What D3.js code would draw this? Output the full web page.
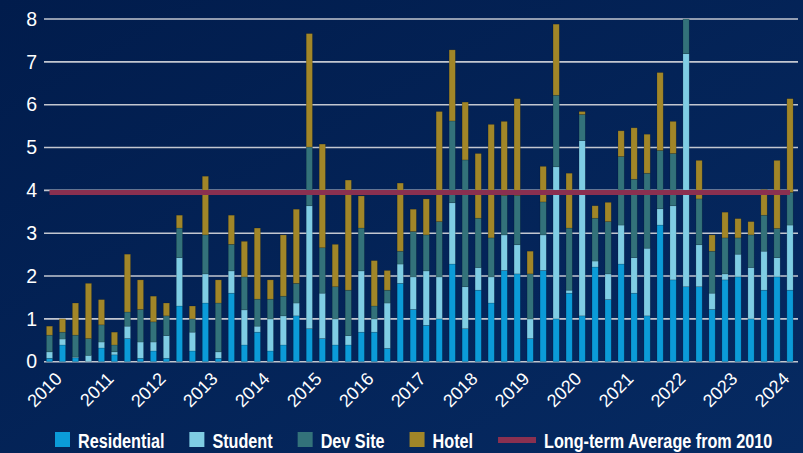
<!DOCTYPE html>
<html>
<head>
<meta charset="utf-8">
<script src="https://cdn.jsdelivr.net/npm/d3@7"></script>
<style>
  html, body { margin: 0; padding: 0; background: #032257; }
  svg { display: block; }
</style>
</head>
<body>
<div id="chart"></div>
<script>
// quarterly data, 2010 Q1 .. 2024 Q2
var years = d3.range(2010, 2025);
var quarters = [];
years.forEach(function(y) {
  [1, 2, 3, 4].forEach(function(q) {
    if (y === 2024 && q > 2) return;
    quarters.push(y + " Q" + q);
  });
});

var residential = [0.08,0.39,0.09,0.00,0.32,0.16,0.54,0.08,0.25,0.08,
                   1.30,0.25,1.37,0.08,1.60,0.39,0.69,0.25,0.39,1.07,
                   0.77,0.54,0.39,0.39,0.69,0.69,0.31,1.83,1.22,0.85,
                   1.00,2.28,0.77,1.67,1.37,2.13,2.05,0.54,2.13,1.00,
                   1.60,1.07,2.21,1.45,2.28,1.60,1.07,3.19,1.91,1.75,
                   1.75,1.22,1.91,1.98,1.00,1.67,1.98,1.67];
var student =     [0.15,0.14,0.02,0.15,0.14,0.07,0.29,0.38,0.21,0.53,
                   1.13,0.44,0.68,0.15,0.52,0.82,0.14,0.75,0.68,0.30,
                   2.87,1.06,0.61,0.22,1.43,0.31,1.06,0.45,0.76,1.27,
                   0.98,1.43,0.98,0.53,0.61,0.83,0.68,0.46,0.83,3.55,
                   0.07,4.09,0.14,0.60,0.91,0.83,1.58,0.38,1.73,5.44,
                   0.98,0.38,0.14,0.53,1.20,0.91,0.45,1.52];
var devSite =     [0.39,0.16,0.51,0.39,0.40,0.16,0.33,0.76,0.47,0.46,
                   0.69,0.31,0.91,1.14,0.62,0.77,0.63,0.46,0.46,0.46,
                   1.37,1.06,0.75,1.06,1.00,0.30,0.30,0.30,1.06,0.84,
                   1.29,1.91,2.96,1.15,0.91,0.92,1.15,1.05,0.77,1.67,
                   1.45,0.61,1.00,1.22,1.60,1.83,1.75,1.36,1.22,0.81,
                   1.07,0.98,0.84,0.38,0.76,0.84,0.68,0.76];
var hotel =       [0.21,0.31,0.75,1.29,0.59,0.30,1.35,0.69,0.60,0.30,
                   0.30,0.30,1.37,0.54,0.68,0.83,1.66,0.45,1.43,1.73,
                   2.65,2.42,0.99,2.57,0.75,1.06,0.46,1.59,0.52,0.84,
                   2.57,1.66,1.35,1.51,2.65,1.73,2.26,0.53,0.83,1.66,
                   1.28,0.07,0.29,0.45,0.60,1.20,0.91,1.82,0.75,0.00,
                   0.90,0.38,0.60,0.45,0.31,0.60,1.59,2.19];
var longTermAvg = 3.95;

var seriesNames = ["Residential", "Student", "Dev Site", "Hotel"];
var seriesColors = ["#0b9bd8", "#7fcde4", "#33727a", "#a18628"];
var avgColor = "#8a3050";
var yTicks = [0, 1, 2, 3, 4, 5, 6, 7, 8];

var rows = quarters.map(function(q, i) {
  return {
    quarter: q,
    "Residential": residential[i],
    "Student": student[i],
    "Dev Site": devSite[i],
    "Hotel": hotel[i]
  };
});

var W = 803, H = 453;
var svg = d3.select("#chart").append("svg")
  .attr("width", W)
  .attr("height", H);

// background
var defs = svg.append("defs");
var grad = defs.append("linearGradient")
  .attr("id", "bg")
  .attr("x1", "0").attr("y1", "0").attr("x2", "1").attr("y2", "1");
grad.append("stop").attr("offset", "0%").attr("stop-color", "#011c4c");
grad.append("stop").attr("offset", "100%").attr("stop-color", "#062a62");
svg.append("rect").attr("width", W).attr("height", H).attr("fill", "url(#bg)");

var x = d3.scaleBand()
  .domain(quarters)
  .range([43, 796.5])
  .paddingInner(0.52)
  .paddingOuter(0.26);

var y = d3.scaleLinear()
  .domain([0, 8])
  .range([361.7, 19]);

// gridlines
svg.append("g")
  .selectAll("line")
  .data(yTicks)
  .enter()
  .append("line")
    .attr("x1", 44)
    .attr("x2", 798)
    .attr("y1", function(d) { return y(d); })
    .attr("y2", function(d) { return y(d); })
    .attr("stroke", "#c3c7d0")
    .attr("stroke-width", 1.6);

// y axis labels
var yAxis = svg.append("g")
  .attr("transform", "translate(37,0)")
  .call(d3.axisLeft(y).tickValues(yTicks).tickSize(0).tickPadding(0));
yAxis.select(".domain").remove();
yAxis.selectAll("text")
  .attr("fill", "#ffffff")
  .style("font-family", "'Liberation Sans', Arial, sans-serif")
  .style("font-size", "19.5px");

// stacked bars
var stack = d3.stack().keys(seriesNames);
var layers = stack(rows);

svg.append("g")
  .selectAll("g")
  .data(layers)
  .enter()
  .append("g")
    .attr("fill", function(d, i) { return seriesColors[i]; })
  .selectAll("rect")
  .data(function(d) { return d; })
  .enter()
  .append("rect")
    .attr("x", function(d) { return x(d.data.quarter); })
    .attr("width", x.bandwidth())
    .attr("y", function(d) { return y(Math.min(d[1], 8)); })
    .attr("height", function(d) { return Math.max(0, y(d[0]) - y(Math.min(d[1], 8))); })
    .attr("stroke", "rgba(0,0,0,0.25)")
    .attr("stroke-width", 0.6);

// long-term average
var first = quarters[0], last = quarters[quarters.length - 1];
svg.append("line")
  .attr("x1", x(first) + x.bandwidth() / 2)
  .attr("x2", x(last) + x.bandwidth() / 2)
  .attr("y1", y(longTermAvg))
  .attr("y2", y(longTermAvg))
  .attr("stroke", avgColor)
  .attr("stroke-width", 5);

// x axis year labels (at Q1 of each year)
svg.append("g")
  .selectAll("text")
  .data(years)
  .enter()
  .append("text")
    .attr("transform", function(d) {
      var cx = x(d + " Q1") + x.bandwidth() / 2;
      return "translate(" + (cx + 13.5) + ",380) rotate(-45)";
    })
    .attr("text-anchor", "end")
    .attr("fill", "#ffffff")
    .style("font-family", "'Liberation Sans', Arial, sans-serif")
    .style("font-size", "18px")
    .text(function(d) { return d; });

// legend (narrow bold type: squeeze Liberation Sans horizontally)
var legend = svg.append("g").attr("transform", "translate(55,440)");
var squeeze = 0.79;
var lx = 0;
var items = seriesNames.map(function(n, i) { return {name: n, color: seriesColors[i], type: "box"}; });
items.push({name: "Long-term Average from 2010", color: avgColor, type: "line"});
items.forEach(function(it) {
  var g = legend.append("g").attr("transform", "translate(" + lx + ",0)");
  var w;
  if (it.type === "box") {
    g.append("rect").attr("x", 0).attr("y", -8).attr("width", 15).attr("height", 15).attr("fill", it.color);
    w = 15;
  } else {
    g.append("rect").attr("x", 0).attr("y", -3).attr("width", 38).attr("height", 6).attr("fill", it.color);
    w = 38;
  }
  var t = g.append("text")
    .attr("transform", "translate(" + (w + 8) + ",7.5) scale(" + squeeze + ",1)")
    .attr("fill", "#ffffff")
    .style("font-family", "'Liberation Sans', Arial, sans-serif")
    .style("font-weight", "bold")
    .style("font-size", "20.5px")
    .text(it.name);
  lx += w + 8 + t.node().getComputedTextLength() * squeeze + 25;
});
</script>
</body>
</html>
